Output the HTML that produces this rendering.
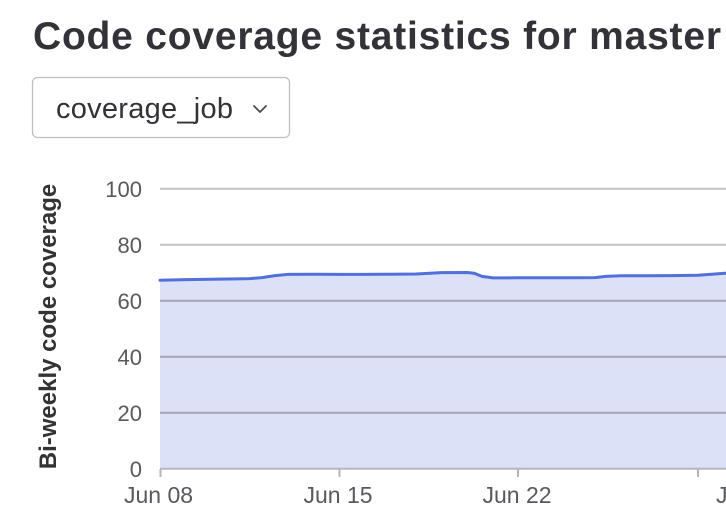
<!DOCTYPE html>
<html>
<head>
<meta charset="utf-8">
<style>
html,body{margin:0;padding:0;background:#fff;}
body{width:726px;height:522px;overflow:hidden;position:relative;}
svg{position:absolute;left:0;top:0;}
</style>
</head>
<body>
<svg width="726" height="522" viewBox="0 0 726 522" xmlns="http://www.w3.org/2000/svg">
  <!-- Title -->
  <text x="33" y="49" font-family="Liberation Sans, Arial, sans-serif" font-weight="bold" font-size="39" fill="#333238" textLength="688" lengthAdjust="spacing">Code coverage statistics for master</text>

  <!-- Dropdown -->
  <rect x="32.5" y="77.5" width="257" height="60" rx="5" ry="5" fill="#fff" stroke="#bfbfc3" stroke-width="1.3"/>
  <text x="56" y="118" font-family="Liberation Sans, Arial, sans-serif" font-size="29" fill="#333238" textLength="177" lengthAdjust="spacing">coverage_job</text>
  <polyline points="254,106 260,112 266,106" fill="none" stroke="#4a4a52" stroke-width="1.8" stroke-linecap="round" stroke-linejoin="round"/>

  <!-- Area fill -->
  <polygon fill="#dde1f7" points="160,280.2 186,279.6 211,279.2 237,278.9 250,278.6 262,277.6 275,275.6 288,274.4 314,274.3 339,274.4 365,274.4 391,274.2 416,274 430,273.2 442,272.6 467,272.5 474,273.2 482,276.4 493,277.9 518,277.8 544,277.8 570,277.8 595,277.6 606,276.4 621,275.8 647,275.8 672,275.6 698,275.3 712,274.2 723,273.4 726,273.2 726,469 160,469"/>

  <!-- Grid lines -->
  <line x1="160" y1="188.7" x2="726" y2="188.7" stroke="#c2c2c6" stroke-width="2"/>
  <line x1="160" y1="244.7" x2="726" y2="244.7" stroke="#c2c2c6" stroke-width="2"/>
  <line x1="160" y1="300.7" x2="726" y2="300.7" stroke="#a3a6ba" stroke-width="2"/>
  <line x1="160" y1="356.7" x2="726" y2="356.7" stroke="#a3a6ba" stroke-width="2"/>
  <line x1="160" y1="412.7" x2="726" y2="412.7" stroke="#a3a6ba" stroke-width="2"/>
  <line x1="160" y1="468.7" x2="726" y2="468.7" stroke="#b6b6bb" stroke-width="2"/>

  <!-- X ticks -->
  <line x1="160.5" y1="469" x2="160.5" y2="477" stroke="#b6b6bb" stroke-width="2"/>
  <line x1="339.5" y1="469" x2="339.5" y2="477" stroke="#b6b6bb" stroke-width="2"/>
  <line x1="518" y1="469" x2="518" y2="477" stroke="#b6b6bb" stroke-width="2"/>
  <line x1="698" y1="469" x2="698" y2="477" stroke="#b6b6bb" stroke-width="2"/>

  <!-- Series line -->
  <polyline fill="none" stroke="#5270da" stroke-width="3" stroke-linejoin="round" stroke-linecap="round" points="160,280.2 186,279.6 211,279.2 237,278.9 250,278.6 262,277.6 275,275.6 288,274.4 314,274.3 339,274.4 365,274.4 391,274.2 416,274 430,273.2 442,272.6 467,272.5 474,273.2 482,276.4 493,277.9 518,277.8 544,277.8 570,277.8 595,277.6 606,276.4 621,275.8 647,275.8 672,275.6 698,275.3 712,274.2 723,273.4 728,273.2"/>

  <!-- Y tick labels -->
  <g font-family="Liberation Sans, Arial, sans-serif" font-size="22" fill="#58585f" text-anchor="end">
    <text x="142" y="197">100</text>
    <text x="142" y="253">80</text>
    <text x="142" y="309">60</text>
    <text x="142" y="365">40</text>
    <text x="142" y="421">20</text>
    <text x="142" y="477">0</text>
  </g>

  <!-- X tick labels -->
  <g font-family="Liberation Sans, Arial, sans-serif" font-size="23" fill="#58585f">
    <text x="158.5" y="503" text-anchor="middle">Jun 08</text>
    <text x="338" y="503" text-anchor="middle">Jun 15</text>
    <text x="517" y="503" text-anchor="middle">Jun 22</text>
    <text x="716" y="503">Jun 29</text>
  </g>

  <!-- Y axis name -->
  <text transform="translate(56,326.5) rotate(-90)" text-anchor="middle" font-family="Liberation Sans, Arial, sans-serif" font-weight="bold" font-size="24" fill="#333">Bi-weekly code coverage</text>
</svg>
</body>
</html>
